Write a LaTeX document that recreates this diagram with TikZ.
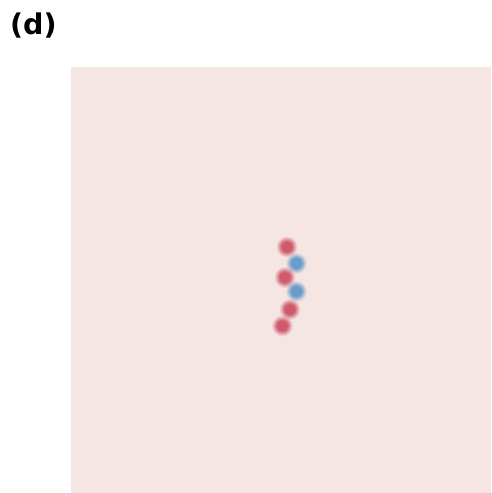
\documentclass[tikz,border=0pt]{standalone}
\usepackage{fontspec}
\setmainfont{DejaVu Sans}
\definecolor{bg}{HTML}{F5E6E3}
\definecolor{dotred}{HTML}{D05A6C}
\definecolor{dotblue}{HTML}{6B9BCB}
\tikzset{
  dotanchor/.style={circle, minimum size=18pt, inner sep=0pt},
  lbl/.style={font=\fontsize{28.5}{32}\selectfont\bfseries, inner sep=0pt, anchor=west}
}
\newcommand{\blurdot}[3]{%
  \node[dotanchor] (#1) at (#2) {};
  \foreach \r/\o in {10.5/0.12, 9.5/0.18, 8.5/0.25, 7.5/0.35, 6.5/0.5}
    \fill[#3, opacity=\o] (#1.center) circle[radius=\r];
  \fill[#3] (#1.center) circle[radius=5.5];
}
\begin{document}
\begin{tikzpicture}[x=1pt,y=-1pt]
\useasboundingbox (0,0) rectangle (491,493);
\fill[white] (0,0) rectangle (491,493);
\fill[bg] (71,67) rectangle (491,493);
\node[lbl] (label) at (10,26) {(d)};
\blurdot{d1}{287,247}{dotred}
\blurdot{d2}{296.5,263.5}{dotblue}
\blurdot{d3}{285,277.5}{dotred}
\blurdot{d4}{296.5,291.5}{dotblue}
\blurdot{d5}{290,309.5}{dotred}
\blurdot{d6}{282.5,326}{dotred}
\end{tikzpicture}
\end{document}
